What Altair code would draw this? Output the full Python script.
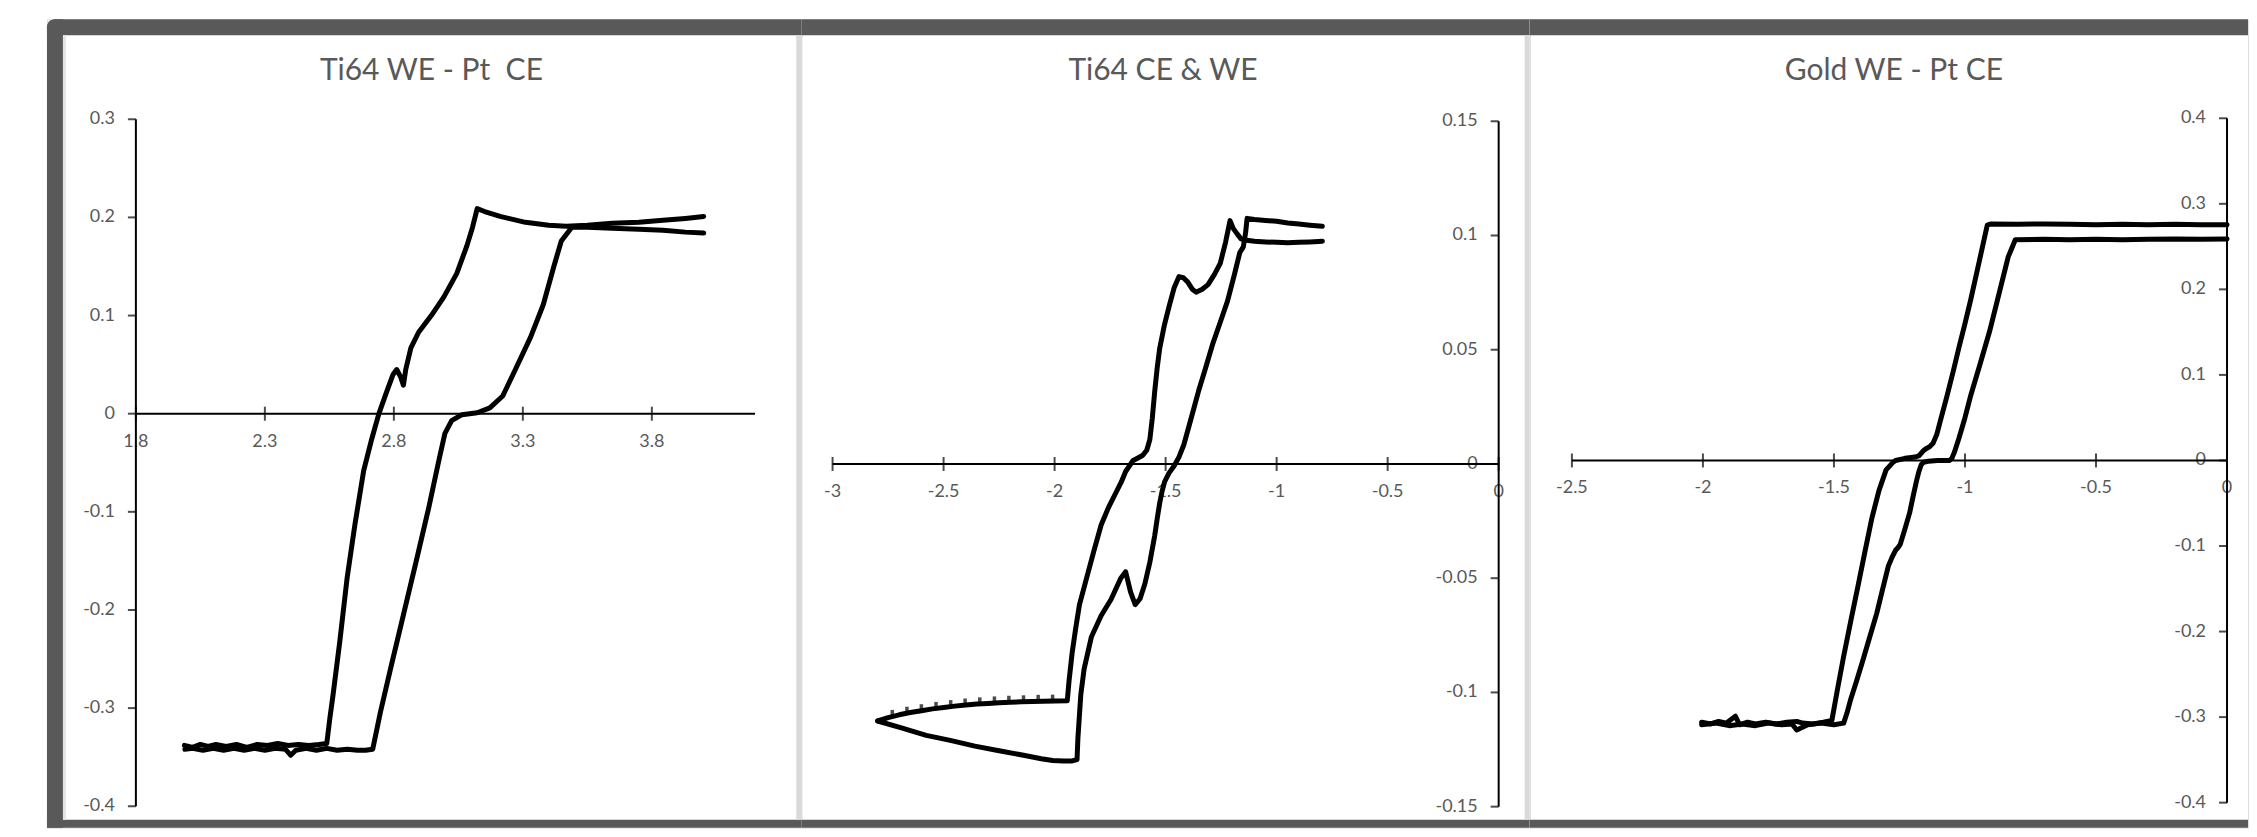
import altair as alt
import pandas as pd

# ---------------- data ----------------
TITLES = ["Ti64 WE - Pt\u00a0 CE", "Ti64 CE & WE", "Gold WE - Pt CE"]

# Panel A : Ti64 WE - Pt CE  (forward sweep, then reverse sweep)
A_FWD_X = [1.988, 2.02, 2.05, 2.08, 2.11, 2.15, 2.19, 2.23, 2.27, 2.31, 2.35, 2.39, 2.43, 2.47, 2.51, 2.540,
           2.552, 2.564, 2.590, 2.619, 2.649, 2.683, 2.714, 2.742, 2.773, 2.797, 2.811, 2.827, 2.837, 2.846,
           2.866, 2.896, 2.945, 2.994, 3.044, 3.083, 3.105, 3.123,
           3.152, 3.212, 3.31, 3.40, 3.468, 3.55, 3.646, 3.75, 3.843, 3.93, 4.001]
A_FWD_Y = [-0.338, -0.340, -0.337, -0.339, -0.337, -0.339, -0.337, -0.340, -0.337, -0.338, -0.336, -0.338,
           -0.337, -0.338, -0.337, -0.336,
           -0.310, -0.287, -0.233, -0.167, -0.113, -0.058, -0.026, 0.000, 0.023, 0.040, 0.045, 0.037, 0.029,
           0.045, 0.067, 0.083, 0.100, 0.119, 0.143, 0.171, 0.190, 0.209,
           0.206, 0.201, 0.195, 0.192, 0.191, 0.192, 0.194, 0.195, 0.197, 0.199, 0.201]
A_REV_X = [4.001, 3.93, 3.843, 3.75, 3.646, 3.55, 3.49,
           3.449, 3.419, 3.379, 3.330, 3.271, 3.222, 3.172, 3.123, 3.064, 3.024, 2.998, 2.975, 2.935, 2.886,
           2.837, 2.787, 2.748, 2.718,
           2.69, 2.659, 2.62, 2.58, 2.54, 2.50, 2.46, 2.42, 2.40, 2.38, 2.34, 2.30, 2.26, 2.22, 2.18, 2.14,
           2.10, 2.06, 2.02, 1.99]
A_REV_Y = [0.184, 0.185, 0.187, 0.188, 0.189, 0.190, 0.190,
           0.176, 0.149, 0.111, 0.078, 0.045, 0.018, 0.006, 0.001, -0.001, -0.007, -0.020, -0.047, -0.096,
           -0.151, -0.205, -0.260, -0.304, -0.342,
           -0.343, -0.343, -0.342, -0.343, -0.341, -0.343, -0.341, -0.343, -0.348, -0.342, -0.341, -0.343,
           -0.341, -0.343, -0.341, -0.343, -0.341, -0.343, -0.341, -0.342]

# Panel B : Ti64 CE & WE
B_FWD_X = [-2.797, -2.75, -2.70, -2.65, -2.60, -2.55, -2.50, -2.45, -2.40, -2.35, -2.30, -2.25, -2.20, -2.15,
           -2.10, -2.05, -2.00, -1.943,
           -1.935, -1.921, -1.905, -1.888, -1.856, -1.823, -1.790, -1.757, -1.724, -1.700, -1.680, -1.648,
           -1.604, -1.585, -1.571, -1.560, -1.549, -1.538, -1.527, -1.505, -1.484, -1.462, -1.440, -1.420,
           -1.400, -1.380, -1.363, -1.335, -1.309, -1.280, -1.254, -1.230, -1.210, -1.195, -1.177, -1.160,
           -1.144, -1.10, -1.05, -1.00, -0.95, -0.90, -0.85, -0.794]
B_FWD_Y = [-0.1125, -0.1110, -0.1098, -0.1088, -0.1080, -0.1072, -0.1066, -0.1060, -0.1055, -0.1051, -0.1048,
           -0.1045, -0.1043, -0.1041, -0.1040, -0.1039, -0.1038, -0.1037,
           -0.0950, -0.0827, -0.0720, -0.0616, -0.0500, -0.0380, -0.0266, -0.0190, -0.0126, -0.0080, -0.0033,
           0.0014, 0.0037, 0.0060, 0.0107, 0.0200, 0.0318, 0.0420, 0.0504, 0.0610, 0.0691, 0.0770, 0.0820,
           0.0815, 0.0796, 0.0765, 0.0752, 0.0765, 0.0785, 0.0830, 0.0878, 0.0970, 0.1065, 0.1030, 0.1006,
           0.0985,
           0.0980, 0.0975, 0.0972, 0.0970, 0.0968, 0.0970, 0.0972, 0.0975]
B_REV_X = [-0.794, -0.85, -0.90, -0.95, -1.00, -1.05, -1.10, -1.133,
           -1.140, -1.150, -1.166, -1.190, -1.221, -1.254, -1.287, -1.320, -1.352, -1.385, -1.418, -1.440,
           -1.462, -1.485, -1.505, -1.516, -1.527, -1.538, -1.549, -1.571, -1.593, -1.615, -1.637, -1.658,
           -1.680, -1.702, -1.746, -1.790, -1.834, -1.867, -1.882, -1.895, -1.899,
           -1.921, -1.96, -2.009, -2.06, -2.140, -2.25, -2.359, -2.47, -2.578, -2.69, -2.797]
B_REV_Y = [0.1040, 0.1045, 0.1050, 0.1055, 0.1062, 0.1066, 0.1070, 0.1075,
           0.1010, 0.0950, 0.0925, 0.0830, 0.0714, 0.0620, 0.0528, 0.0420, 0.0318, 0.0200, 0.0084, 0.0030,
           -0.0009, -0.0040, -0.0079, -0.0120, -0.0173, -0.0240, -0.0313, -0.0430, -0.0523, -0.0590, -0.0616,
           -0.0560, -0.0472, -0.0500, -0.0593, -0.0663, -0.0756, -0.0897, -0.1010, -0.1200, -0.1294,
           -0.1300, -0.1300, -0.1298, -0.1290, -0.1275, -0.1255, -0.1235, -0.1210, -0.1188, -0.1155, -0.1125]
# sparse data markers visible along the upper-left plateau of panel B
B_MARK_X = [-2.731, -2.665, -2.600, -2.534, -2.468, -2.403, -2.337, -2.271, -2.206, -2.140, -2.074, -2.009]
B_MARK_Y = [-0.1105, -0.1091, -0.1080, -0.1070, -0.1062, -0.1055, -0.1050, -0.1046, -0.1043, -0.1041,
            -0.1039, -0.1038]

# Panel C : Gold WE - Pt CE
C_FWD_X = [-2.005, -1.97, -1.94, -1.91, -1.876, -1.86, -1.83, -1.80, -1.76, -1.72, -1.68, -1.642, -1.62,
           -1.58, -1.54, -1.508,
           -1.485, -1.463, -1.436, -1.409, -1.382, -1.355, -1.328, -1.301, -1.274, -1.265, -1.229, -1.190,
           -1.175, -1.160, -1.149, -1.135, -1.122, -1.108, -1.095, -1.068, -1.045, -1.023, -1.000, -0.978,
           -0.946, -0.915,
           -0.90, -0.80, -0.70, -0.60, -0.50, -0.40, -0.30, -0.20, -0.10, 0.0]
C_FWD_Y = [-0.306, -0.308, -0.305, -0.307, -0.299, -0.309, -0.306, -0.308, -0.306, -0.308, -0.306, -0.305,
           -0.307, -0.308, -0.306, -0.304,
           -0.265, -0.229, -0.188, -0.148, -0.107, -0.067, -0.035, -0.011, -0.002, 0.000, 0.0025, 0.004,
           0.0056, 0.011, 0.0137, 0.016, 0.020, 0.030, 0.045, 0.076, 0.104, 0.132, 0.160, 0.188,
           0.232, 0.275,
           0.2765, 0.276, 0.2765, 0.276, 0.2755, 0.276, 0.2755, 0.276, 0.2755, 0.2755]
C_REV_X = [0.0, -0.10, -0.20, -0.30, -0.40, -0.50, -0.60, -0.70, -0.808,
           -0.835, -0.870, -0.906, -0.942, -0.978, -1.000, -1.023, -1.040, -1.050, -1.059, -1.104, -1.140,
           -1.158, -1.167, -1.176, -1.185, -1.198, -1.211, -1.229, -1.247, -1.256, -1.265, -1.278, -1.292,
           -1.314, -1.337, -1.364, -1.391, -1.414, -1.436, -1.450, -1.463,
           -1.50, -1.55, -1.60, -1.642, -1.66, -1.70, -1.75, -1.80, -1.85, -1.90, -1.95, -2.005]
C_REV_Y = [0.259, 0.2585, 0.259, 0.2585, 0.258, 0.2585, 0.258, 0.2585, 0.258,
           0.238, 0.195, 0.151, 0.113, 0.076, 0.050, 0.026, 0.010, 0.0025, 0.000, 0.000, -0.001,
           -0.002, -0.005, -0.013, -0.024, -0.042, -0.061, -0.080, -0.098, -0.102, -0.105, -0.113, -0.123,
           -0.150, -0.179, -0.207, -0.235, -0.258, -0.279, -0.295, -0.307,
           -0.309, -0.307, -0.309, -0.315, -0.308, -0.309, -0.307, -0.310, -0.308, -0.310, -0.307, -0.309]

# axis ticks / labels
A_XTICKS = [1.8, 2.3, 2.8, 3.3, 3.8]
A_XLABELS = ["1.8", "2.3", "2.8", "3.3", "3.8"]
A_YTICKS = [0.3, 0.2, 0.1, 0.0, -0.1, -0.2, -0.3, -0.4]
A_YLABELS = ["0.3", "0.2", "0.1", "0", "-0.1", "-0.2", "-0.3", "-0.4"]

B_XTICKS = [-3, -2.5, -2, -1.5, -1, -0.5, 0]
B_XLABELS = ["-3", "-2.5", "-2", "-1.5", "-1", "-0.5", "0"]
B_YTICKS = [0.15, 0.1, 0.05, 0.0, -0.05, -0.1, -0.15]
B_YLABELS = ["0.15", "0.1", "0.05", "0", "-0.05", "-0.1", "-0.15"]

C_XTICKS = [-2.5, -2, -1.5, -1, -0.5, 0]
C_XLABELS = ["-2.5", "-2", "-1.5", "-1", "-0.5", "0"]
C_YTICKS = [0.4, 0.3, 0.2, 0.1, 0.0, -0.1, -0.2, -0.3, -0.4]
C_YLABELS = ["0.4", "0.3", "0.2", "0.1", "0", "-0.1", "-0.2", "-0.3", "-0.4"]

# ---------------- style ----------------
FRAME = "#595959"
SEP = "#d9d9d9"
GREY = "#595959"
FONT = "Lato"
H = 809


def curve_frame(fx, fy, rx, ry):
    return pd.concat([
        pd.DataFrame({"x": fx, "y": fy, "seg": "fwd", "i": list(range(len(fx)))}),
        pd.DataFrame({"x": rx, "y": ry, "seg": "rev", "i": list(range(len(rx)))}),
    ], ignore_index=True)


def panel(title, cd, xdom, xrng, ydom, yrng, xticks, xlabels, yticks, ylabels,
          yaxis_at, width, title_x, left_frame, right_sep, marks=None):
    sx = alt.Scale(domain=xdom, range=xrng, nice=False, zero=False)
    sy = alt.Scale(domain=ydom, range=yrng, nice=False, zero=False)

    def X(f="x"):
        return alt.X(f + ":Q", scale=sx, axis=None)

    def Y(f="y"):
        return alt.Y(f + ":Q", scale=sy, axis=None)

    one = pd.DataFrame({"d": [0]})
    layers = []
    # frame (rects so that the bounds stay exact)
    layers.append(alt.Chart(one).mark_rect(
        color=FRAME, cornerRadiusTopLeft=9 if left_frame else 0).encode(
        x=alt.value(0), x2=alt.value(width), y=alt.value(0), y2=alt.value(16)))
    layers.append(alt.Chart(one).mark_rect(color=FRAME).encode(
        x=alt.value(0), x2=alt.value(width), y=alt.value(H - 8), y2=alt.value(H)))
    if left_frame:
        layers.append(alt.Chart(one).mark_rect(color=FRAME, cornerRadiusTopLeft=9).encode(
            x=alt.value(0), x2=alt.value(16), y=alt.value(0), y2=alt.value(H)))
        layers.append(alt.Chart(one).mark_rect(color="#e4e4e4").encode(
            x=alt.value(16), x2=alt.value(19), y=alt.value(16), y2=alt.value(H - 8)))
    if right_sep:
        layers.append(alt.Chart(one).mark_rect(color=SEP).encode(
            x=alt.value(width - 5), x2=alt.value(width), y=alt.value(16), y2=alt.value(H - 8)))

    # tick labels
    xl = pd.DataFrame({"x": xticks, "y": [0] * len(xticks), "t": xlabels})
    layers.append(alt.Chart(xl).mark_text(
        dy=28, align="center", baseline="middle", fontSize=18, font=FONT, color=GREY
    ).encode(x=X(), y=Y(), text="t:N"))
    yl = pd.DataFrame({"x": [yaxis_at] * len(yticks), "y": yticks, "t": ylabels})
    layers.append(alt.Chart(yl).mark_text(
        dx=-21, align="right", baseline="middle", fontSize=18, font=FONT, color=GREY
    ).encode(x=X(), y=Y(), text="t:N"))

    # axis lines
    xa = pd.DataFrame({"x": [xdom[0]], "x2": [xdom[1]], "y": [0]})
    layers.append(alt.Chart(xa).mark_rule(color="black", strokeWidth=2).encode(
        x=X(), x2="x2:Q", y=Y()))
    ya = pd.DataFrame({"x": [yaxis_at], "y": [ydom[0]], "y2": [ydom[1]]})
    layers.append(alt.Chart(ya).mark_rule(color="black", strokeWidth=2).encode(
        x=X(), y=Y(), y2="y2:Q"))
    # ticks
    xt = pd.DataFrame({"x": xticks, "y": [0] * len(xticks)})
    layers.append(alt.Chart(xt).mark_tick(
        orient="vertical", size=14, thickness=2, color="black"
    ).encode(x=X(), y=Y()))
    yt = pd.DataFrame({"x": [yaxis_at] * len(yticks), "y": yticks})
    layers.append(alt.Chart(yt).mark_tick(
        orient="horizontal", size=8, thickness=2, color="black", xOffset=-4
    ).encode(x=X(), y=Y()))

    # curve (two sweeps)
    layers.append(alt.Chart(cd).mark_line(
        color="black", strokeWidth=5, strokeJoin="round", strokeCap="round"
    ).encode(x=X(), y=Y(), detail="seg:N", order=alt.Order("i:Q")))
    if marks is not None:
        layers.append(alt.Chart(marks).mark_tick(
            orient="vertical", size=7, thickness=3.5, color="black", yOffset=-3
        ).encode(x=X(), y=Y()))

    # title
    td = pd.DataFrame({"t": [title]})
    layers.append(alt.Chart(td).mark_text(
        fontSize=30, font=FONT, color=GREY, align="center", baseline="middle"
    ).encode(x=alt.value(title_x), y=alt.value(52), text="t:N"))

    return alt.layer(*layers).properties(width=width, height=H)


pa = panel(TITLES[0], curve_frame(A_FWD_X, A_FWD_Y, A_REV_X, A_REV_Y),
           [1.8, 4.2], [89, 708.7], [-0.4, 0.3], [787.6, 100],
           A_XTICKS, A_XLABELS, A_YTICKS, A_YLABELS, 1.8, 755, 384.8, True, True)
pb = panel(TITLES[1], curve_frame(B_FWD_X, B_FWD_Y, B_REV_X, B_REV_Y),
           [-3, 0], [31.3, 698], [-0.15, 0.15], [788, 102],
           B_XTICKS, B_XLABELS, B_YTICKS, B_YLABELS, 0, 729, 362, False, True,
           marks=pd.DataFrame({"x": B_MARK_X, "y": B_MARK_Y}))
pc = panel(TITLES[2], curve_frame(C_FWD_X, C_FWD_Y, C_REV_X, C_REV_Y),
           [-2.5, 0], [42.3, 698], [-0.4, 0.4], [784, 99],
           C_XTICKS, C_XLABELS, C_YTICKS, C_YLABELS, 0, 719, 364.6, False, False)

chart = alt.hconcat(pa, pb, pc, spacing=0, bounds="flush").properties(
    padding={"left": 38, "top": 10, "right": 0, "bottom": 0}
).configure_view(stroke="transparent").configure(background="white")

chart.save("out.html", embed_options={"renderer": "svg", "actions": False})
